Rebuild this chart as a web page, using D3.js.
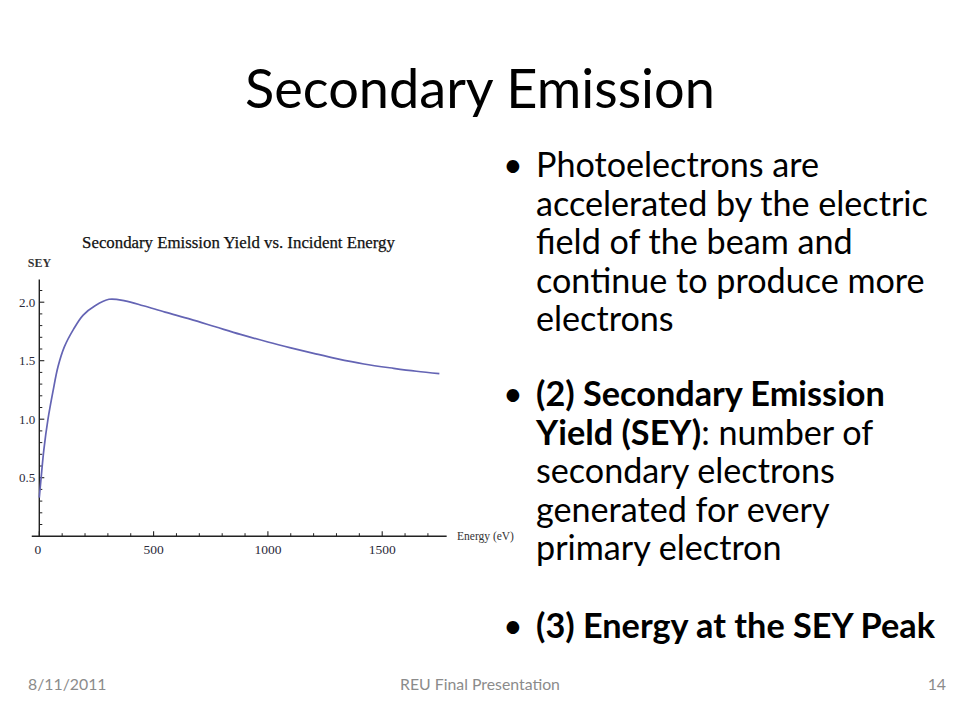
<!DOCTYPE html>
<html>
<head>
<meta charset="utf-8">
<script src="https://cdn.jsdelivr.net/npm/d3@7"></script>
<style>
  html, body { margin: 0; padding: 0; background: #fff; }
  svg { display: block; }
</style>
</head>
<body>
<svg id="slide" width="960" height="720"></svg>
<script>
// ---- data ----
const energy = [0, 8, 20, 38, 60, 82, 110, 150, 192, 244, 305, 375, 455, 550, 660, 770, 880, 1000, 1100, 1200, 1300, 1420, 1550, 1650, 1750];
const sey    = [0.33, 0.5, 0.74, 1.0, 1.24, 1.45, 1.62, 1.77, 1.89, 1.97, 2.025, 2.012, 1.97, 1.915, 1.855, 1.79, 1.725, 1.66, 1.61, 1.563, 1.518, 1.472, 1.435, 1.41, 1.39];
const xMajorTicks = [0, 500, 1000, 1500];
const xMinorTicks = [100, 200, 300, 400, 600, 700, 800, 900, 1100, 1200, 1300, 1400, 1600, 1700];
const yMajorTicks = [0.5, 1.0, 1.5, 2.0];
const yMinorTicks = [0.1, 0.2, 0.3, 0.4, 0.6, 0.7, 0.8, 0.9, 1.1, 1.2, 1.3, 1.4, 1.6, 1.7, 1.8, 1.9, 2.1];
const xTickLabels = ["0", "500", "1000", "1500"];
const yTickLabels = ["0.5", "1.0", "1.5", "2.0"];
const slideTitle = "Secondary Emission";
const chartTitle = "Secondary Emission Yield vs. Incident Energy";
const yAxisLabel = "SEY";
const xAxisLabel = "Energy (eV)";
const bullet1 = ["Photoelectrons are", "accelerated by the electric", "field of the beam and", "continue to produce more", "electrons"];
const bullet2 = [
  [["(2) Secondary Emission", true]],
  [["Yield (SEY)", true], [": number of", false]],
  [["secondary electrons", false]],
  [["generated for every", false]],
  [["primary electron", false]]
];
const bullet3 = "(3) Energy at the SEY Peak";
const footer = ["8/11/2011", "REU Final Presentation", "14"];

// ---- drawing ----
const svg = d3.select("#slide");
const slideFont = "Lato, 'Open Sans', 'Noto Sans', sans-serif";
const serif = "'Liberation Serif', 'DejaVu Serif', serif";

function fitWidth(sel, target) {
  const w = sel.node().getComputedTextLength();
  const fs = parseFloat(sel.attr("font-size"));
  sel.attr("font-size", fs * target / w);
}

// slide title
const t = svg.append("text").attr("x", 480).attr("y", 108).attr("text-anchor", "middle")
  .attr("font-family", slideFont).attr("font-size", 44).attr("fill", "#000").text(slideTitle);
fitWidth(t, 470);

// ---- chart ----
const x = d3.scaleLinear().domain([0, 1750]).range([39.3, 39.3 + 1750 * 0.2286]);
const y = d3.scaleLinear().domain([0, 2]).range([536.2, 302.2]);
const axisColor = "#222";
const labelColor = "#2a2a3a";

const g = svg.append("g");
g.append("line").attr("x1", x(-33)).attr("x2", x(1782)).attr("y1", y(0)).attr("y2", y(0))
  .attr("stroke", axisColor).attr("stroke-width", 1.4);
g.append("line").attr("x1", x(0)).attr("x2", x(0)).attr("y1", y(0)).attr("y2", y(2.195))
  .attr("stroke", axisColor).attr("stroke-width", 1.4);

g.selectAll(".xmaj").data(xMajorTicks).join("line")
  .attr("x1", d => x(d)).attr("x2", d => x(d)).attr("y1", y(0)).attr("y2", y(0) - 5)
  .attr("stroke", axisColor).attr("stroke-width", 1.1);
g.selectAll(".xmin").data(xMinorTicks).join("line")
  .attr("x1", d => x(d)).attr("x2", d => x(d)).attr("y1", y(0)).attr("y2", y(0) - 3)
  .attr("stroke", axisColor).attr("stroke-width", 1);
g.selectAll(".ymaj").data(yMajorTicks).join("line")
  .attr("x1", x(0)).attr("x2", x(0) + 5).attr("y1", d => y(d)).attr("y2", d => y(d))
  .attr("stroke", axisColor).attr("stroke-width", 1.1);
g.selectAll(".ymin").data(yMinorTicks).join("line")
  .attr("x1", x(0)).attr("x2", x(0) + 3).attr("y1", d => y(d)).attr("y2", d => y(d))
  .attr("stroke", axisColor).attr("stroke-width", 1);

g.selectAll(".xl").data(xMajorTicks).join("text")
  .attr("x", (d, i) => x(d) - (i === 0 ? 1.5 : 0)).attr("y", y(0) + 18)
  .attr("text-anchor", "middle").attr("font-family", serif).attr("font-size", 13.5)
  .attr("fill", labelColor).text((d, i) => xTickLabels[i]);
g.selectAll(".yl").data(yMajorTicks).join("text")
  .attr("x", x(0) - 4).attr("y", d => y(d) + 4.5)
  .attr("text-anchor", "end").attr("font-family", serif).attr("font-size", 13)
  .attr("fill", labelColor).text((d, i) => yTickLabels[i]);

g.append("text").attr("x", 39.5).attr("y", 267).attr("text-anchor", "middle")
  .attr("font-family", serif).attr("font-size", 12).attr("font-weight", "bold")
  .attr("fill", "#333").text(yAxisLabel);
g.append("text").attr("x", 457).attr("y", 540).attr("font-family", serif)
  .attr("font-size", 11.5).attr("fill", "#333").text(xAxisLabel);

const ct = g.append("text").attr("x", 238.5).attr("y", 248).attr("text-anchor", "middle")
  .attr("font-family", serif).attr("font-size", 15).attr("fill", "#111")
  .attr("stroke", "#111").attr("stroke-width", 0.25).text(chartTitle);
fitWidth(ct, 313);

const pts = energy.map((e, i) => [e, sey[i]]);
g.append("path").datum(pts)
  .attr("d", d3.line().x(d => x(d[0])).y(d => y(d[1])).curve(d3.curveCatmullRom.alpha(0.5)))
  .attr("fill", "none").attr("stroke", "#6464b4").attr("stroke-width", 1.7);

// ---- bullets ----
const textX = 536, bulletX = 513;
const lh = 38.6;
const probe = svg.append("text").attr("font-family", slideFont).attr("font-size", 28).text(bullet1[1]);
const regSize = 28 * 392 / probe.node().getComputedTextLength();
probe.remove();
const probeB = svg.append("text").attr("font-family", slideFont).attr("font-size", 28)
  .attr("font-weight", "bold").text(bullet3);
const boldSize = 28 * 399 / probeB.node().getComputedTextLength();
probeB.remove();

function addBullet(yb) {
  svg.append("text").attr("x", bulletX).attr("y", yb).attr("text-anchor", "middle")
    .attr("font-family", slideFont).attr("font-size", regSize).text("•");
}

addBullet(177);
bullet1.forEach((line, i) => {
  svg.append("text").attr("x", textX).attr("y", 177 + i * lh)
    .attr("font-family", slideFont).attr("font-size", regSize).attr("fill", "#000").text(line);
});
addBullet(406);
bullet2.forEach((parts, i) => {
  const tx = svg.append("text").attr("x", textX).attr("y", 406 + i * lh)
    .attr("font-family", slideFont).attr("fill", "#000");
  parts.forEach(([s, b]) => {
    tx.append("tspan").attr("font-weight", b ? "bold" : "normal")
      .attr("font-size", b ? boldSize : regSize).text(s);
  });
});
addBullet(638);
svg.append("text").attr("x", textX).attr("y", 638).attr("font-family", slideFont)
  .attr("font-size", boldSize).attr("font-weight", "bold").attr("fill", "#000").text(bullet3);

// footer
const fy = 690;
const f1 = svg.append("text").attr("x", 480).attr("y", fy).attr("text-anchor", "middle").attr("font-family", slideFont)
  .attr("font-size", 14).attr("fill", "#8b8b8b").text(footer[1]);
fitWidth(f1, 160);
const fs = f1.attr("font-size");
svg.append("text").attr("x", 28).attr("y", fy).attr("font-family", slideFont)
  .attr("font-size", fs).attr("fill", "#8b8b8b").text(footer[0]);
svg.append("text").attr("x", 946).attr("y", fy).attr("text-anchor", "end").attr("font-family", slideFont)
  .attr("font-size", fs).attr("fill", "#8b8b8b").text(footer[2]);
</script>
</body>
</html>
